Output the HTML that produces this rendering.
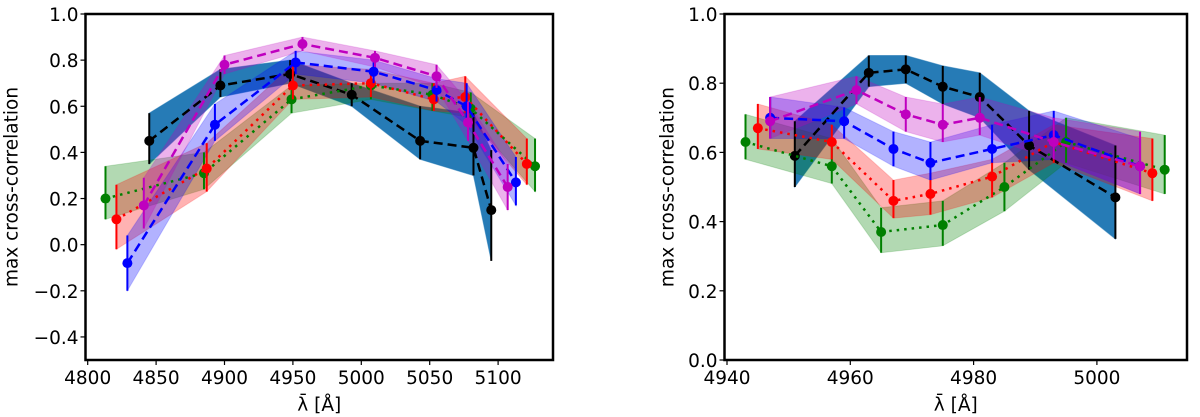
<!DOCTYPE html>
<html><head><meta charset="utf-8"><style>
html,body{margin:0;padding:0;background:#fff;}
svg{display:block;font-family:"DejaVu Sans","Liberation Sans",sans-serif;}
</style></head><body>
<svg id="chart" width="1200" height="417" viewBox="0 0 1200 417"></svg>
<script>
// ---- Left panel data ----
const L_green_x=[4813,4885,4949,5007,5052,5080,5127];
const L_green_y=[0.20,0.31,0.63,0.69,0.65,0.59,0.34];
const L_green_lo=[0.11,0.24,0.57,0.63,0.58,0.55,0.23];
const L_green_hi=[0.34,0.40,0.69,0.70,0.70,0.66,0.46];
const L_red_x=[4821,4887,4950,5007,5053,5076,5121];
const L_red_y=[0.11,0.33,0.69,0.70,0.63,0.64,0.35];
const L_red_lo=[-0.02,0.23,0.63,0.64,0.58,0.57,0.26];
const L_red_hi=[0.26,0.44,0.78,0.76,0.70,0.73,0.46];
const L_blue_x=[4829,4893,4952,5009,5055,5077,5113];
const L_blue_y=[-0.08,0.52,0.79,0.75,0.67,0.60,0.27];
const L_blue_lo=[-0.20,0.45,0.74,0.70,0.62,0.52,0.17];
const L_blue_hi=[0.04,0.61,0.84,0.80,0.72,0.70,0.38];
const L_mag_x=[4841,4900,4957,5010,5055,5078,5107];
const L_mag_y=[0.17,0.78,0.87,0.81,0.73,0.53,0.25];
const L_mag_lo=[0.07,0.74,0.84,0.77,0.68,0.45,0.15];
const L_mag_hi=[0.29,0.82,0.90,0.84,0.78,0.62,0.35];
const L_blk_x=[4845,4897,4948,4993,5043,5082,5095];
const L_blk_y=[0.45,0.69,0.74,0.65,0.45,0.42,0.15];
const L_blk_lo=[0.35,0.64,0.70,0.60,0.37,0.30,-0.07];
const L_blk_hi=[0.57,0.76,0.80,0.70,0.60,0.57,0.41];
const L_xticks=[4800,4850,4900,4950,5000,5050,5100];
const L_yticks=[-0.4,-0.2,0.0,0.2,0.4,0.6,0.8,1.0];
// ---- Right panel data ----
const R_green_x=[4943,4957,4965,4975,4985,4995,5011];
const R_green_y=[0.63,0.56,0.37,0.39,0.50,0.63,0.55];
const R_green_lo=[0.58,0.51,0.31,0.33,0.43,0.57,0.48];
const R_green_hi=[0.71,0.64,0.44,0.46,0.57,0.70,0.65];
const R_red_x=[4945,4957,4967,4973,4983,4993,5009];
const R_red_y=[0.67,0.63,0.46,0.48,0.53,0.63,0.54];
const R_red_lo=[0.61,0.58,0.41,0.42,0.47,0.57,0.46];
const R_red_hi=[0.74,0.68,0.52,0.54,0.58,0.68,0.64];
const R_blue_x=[4947,4959,4967,4973,4983,4993,5007];
const R_blue_y=[0.70,0.69,0.61,0.57,0.61,0.65,0.56];
const R_blue_lo=[0.64,0.64,0.56,0.52,0.57,0.58,0.48];
const R_blue_hi=[0.76,0.73,0.66,0.63,0.68,0.72,0.64];
const R_mag_x=[4947,4961,4969,4975,4981,4993,5007];
const R_mag_y=[0.69,0.78,0.71,0.68,0.70,0.63,0.56];
const R_mag_lo=[0.64,0.74,0.66,0.63,0.65,0.58,0.48];
const R_mag_hi=[0.76,0.82,0.76,0.74,0.76,0.70,0.66];
const R_blk_x=[4951,4963,4969,4975,4981,4989,5003];
const R_blk_y=[0.59,0.83,0.84,0.79,0.76,0.62,0.47];
const R_blk_lo=[0.50,0.79,0.80,0.74,0.70,0.55,0.35];
const R_blk_hi=[0.69,0.88,0.88,0.85,0.83,0.72,0.62];
const R_xticks=[4940,4960,4980,5000];
const R_yticks=[0.0,0.2,0.4,0.6,0.8,1.0];

const NS="http://www.w3.org/2000/svg";
const svg=document.getElementById('chart');
function mk(tag,attrs,parent){const e=document.createElementNS(NS,tag);for(const k in attrs)e.setAttribute(k,attrs[k]);(parent||svg).appendChild(e);return e;}
const FS=18.5;
function panel(p){
  const g=mk('g',{});
  
  
  const sx=v=>p.x0+(v-p.xd0)*(p.x1-p.x0)/(p.xd1-p.xd0);
  const sy=v=>p.y0+(v-p.yd0)*(p.y1-p.y0)/(p.yd1-p.yd0);
  const series=p.series;
  series.forEach(s=>{
    let d='M'+s.x.map((x,i)=>sx(x)+','+sy(s.hi[i])).join('L');
    d+='L'+s.x.map((x,i)=>[x,i]).reverse().map(([x,i])=>sx(x)+','+sy(s.lo[i])).join('L')+'Z';
    const b=mk('path',{d:d,fill:s.band,'fill-opacity':s.bo,stroke:s.band,'stroke-opacity':s.bo*0.6,'stroke-width':1},g);
    
    
  });
  series.forEach(s=>{
    const l=mk('polyline',{points:s.x.map((x,i)=>sx(x)+','+sy(s.y[i])).join(' '),fill:'none',stroke:s.c,'stroke-width':2.5,'stroke-dasharray':s.dash},g);
    
    
    s.x.forEach((x,i)=>{
      const e=mk('line',{x1:sx(x),x2:sx(x),y1:sy(s.lo[i]),y2:sy(s.hi[i]),stroke:s.c,'stroke-width':2},g);
      
      
      const m=mk('circle',{cx:sx(x),cy:sy(s.y[i]),r:5,fill:s.c},g);
      
      
    });
  });
  const f=mk('rect',{x:p.x0,y:p.y1,width:p.x1-p.x0,height:p.y0-p.y1,fill:'none',stroke:'#000','stroke-width':2.5},g);
  
  
  p.xticks.forEach(t=>{
    mk('line',{x1:sx(t),x2:sx(t),y1:p.y0,y2:p.y0+5,stroke:'#000','stroke-width':1.2},g);
    const tx=mk('text',{x:sx(t),y:p.y0+24,'font-size':FS,'text-anchor':'middle'},g);
    tx.textContent=t;
    
    
  });
  p.yticks.forEach(t=>{
    mk('line',{x1:p.x0-5,x2:p.x0,y1:sy(t),y2:sy(t),stroke:'#000','stroke-width':1.2},g);
    const tx=mk('text',{x:p.x0-7,y:sy(t)+7,'font-size':FS,'text-anchor':'end'},g);
    tx.textContent=(t<0?'\u2212':'')+Math.abs(t).toFixed(1);
    
    
  });
  const xl=mk('text',{x:(p.x0+p.x1)/2,y:411,'font-size':FS,'text-anchor':'middle'},g);
  xl.textContent='\u03BB\u0304 [\u00C5]';
  
  
  const yx=p.x0-p.ylOff, yy=(p.y0+p.y1)/2;
  const yl=mk('text',{x:yx,y:yy,'font-size':FS,'text-anchor':'middle',transform:`rotate(-90 ${yx} ${yy})`},g);
  yl.textContent='max cross-correlation';
  
  
}
const BLK='#1f77b4';
function S(key,x,y,lo,hi,c,band,bo,dash){return {key,x,y,lo,hi,c,band,bo,dash};}
panel({name:'left-panel',x0:85.5,x1:553,xd0:4800+(85.5-87.7)/68.4*50,xd1:4800+(553-87.7)/68.4*50,y0:360,y1:14,yd0:-0.5,yd1:1.0,xticks:L_xticks,yticks:L_yticks,ylOff:68,
 series:[S('black',L_blk_x,L_blk_y,L_blk_lo,L_blk_hi,'#000',BLK,0.97,'9,5'),
  S('green',L_green_x,L_green_y,L_green_lo,L_green_hi,'green','green',0.3,'2.5,5'),
  S('red',L_red_x,L_red_y,L_red_lo,L_red_hi,'red','red',0.3,'2.5,5'),
  S('blue',L_blue_x,L_blue_y,L_blue_lo,L_blue_hi,'blue','blue',0.3,'9,5'),
  S('magenta',L_mag_x,L_mag_y,L_mag_lo,L_mag_hi,'#bf00bf','#bf00bf',0.3,'9,5')]});
panel({name:'right-panel',x0:724.5,x1:1187,xd0:4940+(724.5-727)/123.3*20,xd1:4940+(1187-727)/123.3*20,y0:360,y1:14,yd0:0,yd1:1.0,xticks:R_xticks,yticks:R_yticks,ylOff:51,
 series:[S('black',R_blk_x,R_blk_y,R_blk_lo,R_blk_hi,'#000',BLK,0.97,'9,5'),
  S('green',R_green_x,R_green_y,R_green_lo,R_green_hi,'green','green',0.3,'2.5,5'),
  S('red',R_red_x,R_red_y,R_red_lo,R_red_hi,'red','red',0.3,'2.5,5'),
  S('blue',R_blue_x,R_blue_y,R_blue_lo,R_blue_hi,'blue','blue',0.3,'9,5'),
  S('magenta',R_mag_x,R_mag_y,R_mag_lo,R_mag_hi,'#bf00bf','#bf00bf',0.3,'9,5')]});
</script>
</body></html>
